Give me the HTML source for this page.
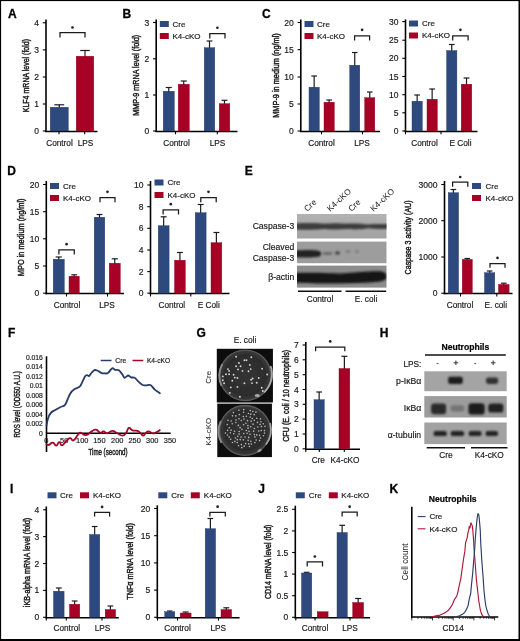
<!DOCTYPE html>
<html><head><meta charset="utf-8"><title>Figure</title>
<style>
html,body{margin:0;padding:0;background:#fff;}
body{width:520px;height:641px;overflow:hidden;}
svg{display:block;font-family:"Liberation Sans",sans-serif;}
</style></head><body>
<svg width="520" height="641" viewBox="0 0 520 641">
<defs>
<filter id="blur1" x="-5%" y="-5%" width="110%" height="110%"><feGaussianBlur stdDeviation="0.85"/></filter>
<filter id="blur05" x="-5%" y="-5%" width="110%" height="110%"><feGaussianBlur stdDeviation="0.45"/></filter>
<radialGradient id="plate" cx="50%" cy="50%" r="50%"><stop offset="0" stop-color="#343434"/><stop offset="0.8" stop-color="#2c2c2c"/><stop offset="1" stop-color="#3c3c3c"/></radialGradient>
<linearGradient id="bg1" x1="0" y1="0" x2="0" y2="1"><stop offset="0" stop-color="#b2b2b2"/><stop offset="1" stop-color="#a2a2a2"/></linearGradient>
<filter id="soft" x="0" y="0" width="520" height="641" filterUnits="userSpaceOnUse"><feGaussianBlur stdDeviation="0.32"/></filter>
</defs>
<rect x="0" y="0" width="520" height="641" fill="#000"/>
<rect x="1.1" y="1.1" width="517.4" height="637.9" fill="#fff"/>
<g opacity="0.999" filter="url(#soft)">
<text x="8" y="18.2" font-size="12" text-anchor="start" font-weight="bold" fill="#000" stroke="#000" stroke-width="0.3">A</text>
<line x1="46" y1="19.4" x2="46" y2="132.1" stroke="#000" stroke-width="1.6"/>
<line x1="45.2" y1="131.4" x2="97.5" y2="131.4" stroke="#000" stroke-width="1.5"/>
<line x1="42.8" y1="22.8" x2="46" y2="22.8" stroke="#000" stroke-width="1.1"/>
<text x="39" y="25.82" font-size="8.5" text-anchor="end" font-weight="normal" fill="#1c1c1c" stroke="#1c1c1c" stroke-width="0.18">4</text>
<line x1="42.8" y1="49.9" x2="46" y2="49.9" stroke="#000" stroke-width="1.1"/>
<text x="39" y="52.92" font-size="8.5" text-anchor="end" font-weight="normal" fill="#1c1c1c" stroke="#1c1c1c" stroke-width="0.18">3</text>
<line x1="42.8" y1="77" x2="46" y2="77" stroke="#000" stroke-width="1.1"/>
<text x="39" y="80.02" font-size="8.5" text-anchor="end" font-weight="normal" fill="#1c1c1c" stroke="#1c1c1c" stroke-width="0.18">2</text>
<line x1="42.8" y1="104" x2="46" y2="104" stroke="#000" stroke-width="1.1"/>
<text x="39" y="107.02" font-size="8.5" text-anchor="end" font-weight="normal" fill="#1c1c1c" stroke="#1c1c1c" stroke-width="0.18">1</text>
<line x1="42.8" y1="131" x2="46" y2="131" stroke="#000" stroke-width="1.1"/>
<text x="39" y="134.02" font-size="8.5" text-anchor="end" font-weight="normal" fill="#1c1c1c" stroke="#1c1c1c" stroke-width="0.18">0</text>
<line x1="59" y1="131.4" x2="59" y2="134.3" stroke="#000" stroke-width="1.1"/>
<line x1="84.7" y1="131.4" x2="84.7" y2="134.3" stroke="#000" stroke-width="1.1"/>
<line x1="59.25" y1="104.8" x2="59.25" y2="108" stroke="#1b1b22" stroke-width="1.2"/>
<line x1="54.35" y1="104.8" x2="64.15" y2="104.8" stroke="#1b1b22" stroke-width="1.2"/>
<rect x="50.2" y="107.2" width="18.1" height="23.8" fill="#2e4a7d" stroke="#263b63" stroke-width="0.4"/>
<line x1="85" y1="50.5" x2="85" y2="57" stroke="#1b1b22" stroke-width="1.2"/>
<line x1="80.23" y1="50.5" x2="89.77" y2="50.5" stroke="#1b1b22" stroke-width="1.2"/>
<rect x="76.2" y="56.2" width="17.6" height="74.8" fill="#a80028" stroke="#8a0020" stroke-width="0.4"/>
<path d="M60 37.5 V32.6 H85 V37.5" fill="none" stroke="#1c1c1c" stroke-width="1.25"/>
<circle cx="72.5" cy="27.5" r="1.35" fill="#222"/>
<text x="59.5" y="146" font-size="8.25" text-anchor="middle" font-weight="normal" fill="#1c1c1c" stroke="#1c1c1c" stroke-width="0.18">Control</text>
<text x="85.5" y="146" font-size="8.25" text-anchor="middle" font-weight="normal" fill="#1c1c1c" stroke="#1c1c1c" stroke-width="0.18">LPS</text>
<text transform="translate(29.3 75.6) rotate(-90)" x="0" y="0" font-size="9" text-anchor="middle" font-weight="normal" fill="#1c1c1c" textLength="73.3" lengthAdjust="spacingAndGlyphs" stroke="#1c1c1c" stroke-width="0.45">KLF4 mRNA level (fold)</text>
<text x="122.5" y="18.2" font-size="12" text-anchor="start" font-weight="bold" fill="#000" stroke="#000" stroke-width="0.3">B</text>
<line x1="156.2" y1="19.4" x2="156.2" y2="132.1" stroke="#000" stroke-width="1.6"/>
<line x1="155.4" y1="131.4" x2="237.5" y2="131.4" stroke="#000" stroke-width="1.5"/>
<line x1="153" y1="22.5" x2="156.2" y2="22.5" stroke="#000" stroke-width="1.1"/>
<text x="149.2" y="25.52" font-size="8.5" text-anchor="end" font-weight="normal" fill="#1c1c1c" stroke="#1c1c1c" stroke-width="0.18">3</text>
<line x1="153" y1="58.8" x2="156.2" y2="58.8" stroke="#000" stroke-width="1.1"/>
<text x="149.2" y="61.82" font-size="8.5" text-anchor="end" font-weight="normal" fill="#1c1c1c" stroke="#1c1c1c" stroke-width="0.18">2</text>
<line x1="153" y1="95" x2="156.2" y2="95" stroke="#000" stroke-width="1.1"/>
<text x="149.2" y="98.02" font-size="8.5" text-anchor="end" font-weight="normal" fill="#1c1c1c" stroke="#1c1c1c" stroke-width="0.18">1</text>
<line x1="153" y1="131" x2="156.2" y2="131" stroke="#000" stroke-width="1.1"/>
<text x="149.2" y="134.02" font-size="8.5" text-anchor="end" font-weight="normal" fill="#1c1c1c" stroke="#1c1c1c" stroke-width="0.18">0</text>
<line x1="175.5" y1="131.4" x2="175.5" y2="134.3" stroke="#000" stroke-width="1.1"/>
<line x1="217.3" y1="131.4" x2="217.3" y2="134.3" stroke="#000" stroke-width="1.1"/>
<line x1="168.75" y1="87.5" x2="168.75" y2="92" stroke="#1b1b22" stroke-width="1.2"/>
<line x1="165.7" y1="87.5" x2="171.8" y2="87.5" stroke="#1b1b22" stroke-width="1.2"/>
<rect x="163.2" y="91.2" width="11.1" height="39.8" fill="#2e4a7d" stroke="#263b63" stroke-width="0.4"/>
<line x1="183.75" y1="81" x2="183.75" y2="85" stroke="#1b1b22" stroke-width="1.2"/>
<line x1="180.7" y1="81" x2="186.8" y2="81" stroke="#1b1b22" stroke-width="1.2"/>
<rect x="178.2" y="84.2" width="11.1" height="46.8" fill="#a80028" stroke="#8a0020" stroke-width="0.4"/>
<line x1="209.5" y1="41" x2="209.5" y2="48.5" stroke="#1b1b22" stroke-width="1.2"/>
<line x1="206.59" y1="41" x2="212.41" y2="41" stroke="#1b1b22" stroke-width="1.2"/>
<rect x="204.2" y="47.7" width="10.6" height="83.3" fill="#2e4a7d" stroke="#263b63" stroke-width="0.4"/>
<line x1="224.5" y1="100.3" x2="224.5" y2="104.5" stroke="#1b1b22" stroke-width="1.2"/>
<line x1="221.59" y1="100.3" x2="227.41" y2="100.3" stroke="#1b1b22" stroke-width="1.2"/>
<rect x="219.2" y="103.7" width="10.6" height="27.3" fill="#a80028" stroke="#8a0020" stroke-width="0.4"/>
<rect x="159.8" y="21" width="9" height="6" fill="#2e4a7d"/>
<text x="172.5" y="26.9" font-size="8" text-anchor="start" font-weight="normal" fill="#1c1c1c" stroke="#1c1c1c" stroke-width="0.18">Cre</text>
<rect x="159.8" y="33" width="9" height="6" fill="#a80028"/>
<text x="172.5" y="38.9" font-size="8" text-anchor="start" font-weight="normal" fill="#1c1c1c" stroke="#1c1c1c" stroke-width="0.18">K4-cKO</text>
<path d="M209.8 38.5 V33.5 H225 V38.5" fill="none" stroke="#1c1c1c" stroke-width="1.25"/>
<circle cx="217.4" cy="27.75" r="1.35" fill="#222"/>
<text x="176.5" y="146" font-size="8.25" text-anchor="middle" font-weight="normal" fill="#1c1c1c" stroke="#1c1c1c" stroke-width="0.18">Control</text>
<text x="217.5" y="146" font-size="8.25" text-anchor="middle" font-weight="normal" fill="#1c1c1c" stroke="#1c1c1c" stroke-width="0.18">LPS</text>
<text transform="translate(138.6 75.3) rotate(-90)" x="0" y="0" font-size="9" text-anchor="middle" font-weight="normal" fill="#1c1c1c" textLength="81" lengthAdjust="spacingAndGlyphs" stroke="#1c1c1c" stroke-width="0.45">MMP-9 mRNA level (fold)</text>
<text x="262" y="18.2" font-size="12" text-anchor="start" font-weight="bold" fill="#000" stroke="#000" stroke-width="0.3">C</text>
<line x1="300.8" y1="19.4" x2="300.8" y2="132.1" stroke="#000" stroke-width="1.6"/>
<line x1="300" y1="131.4" x2="380" y2="131.4" stroke="#000" stroke-width="1.5"/>
<line x1="297.6" y1="22.5" x2="300.8" y2="22.5" stroke="#000" stroke-width="1.1"/>
<text x="293.8" y="25.52" font-size="8.5" text-anchor="end" font-weight="normal" fill="#1c1c1c" stroke="#1c1c1c" stroke-width="0.18">20</text>
<line x1="297.6" y1="49.7" x2="300.8" y2="49.7" stroke="#000" stroke-width="1.1"/>
<text x="293.8" y="52.72" font-size="8.5" text-anchor="end" font-weight="normal" fill="#1c1c1c" stroke="#1c1c1c" stroke-width="0.18">15</text>
<line x1="297.6" y1="77" x2="300.8" y2="77" stroke="#000" stroke-width="1.1"/>
<text x="293.8" y="80.02" font-size="8.5" text-anchor="end" font-weight="normal" fill="#1c1c1c" stroke="#1c1c1c" stroke-width="0.18">10</text>
<line x1="297.6" y1="104" x2="300.8" y2="104" stroke="#000" stroke-width="1.1"/>
<text x="293.8" y="107.02" font-size="8.5" text-anchor="end" font-weight="normal" fill="#1c1c1c" stroke="#1c1c1c" stroke-width="0.18">5</text>
<line x1="297.6" y1="131" x2="300.8" y2="131" stroke="#000" stroke-width="1.1"/>
<text x="293.8" y="134.02" font-size="8.5" text-anchor="end" font-weight="normal" fill="#1c1c1c" stroke="#1c1c1c" stroke-width="0.18">0</text>
<line x1="321.5" y1="131.4" x2="321.5" y2="134.3" stroke="#000" stroke-width="1.1"/>
<line x1="362.5" y1="131.4" x2="362.5" y2="134.3" stroke="#000" stroke-width="1.1"/>
<line x1="314.15" y1="76" x2="314.15" y2="88" stroke="#1b1b22" stroke-width="1.2"/>
<line x1="311.31" y1="76" x2="316.99" y2="76" stroke="#1b1b22" stroke-width="1.2"/>
<rect x="309" y="87.2" width="10.3" height="43.8" fill="#2e4a7d" stroke="#263b63" stroke-width="0.4"/>
<line x1="329.15" y1="100" x2="329.15" y2="103" stroke="#1b1b22" stroke-width="1.2"/>
<line x1="326.31" y1="100" x2="331.99" y2="100" stroke="#1b1b22" stroke-width="1.2"/>
<rect x="324" y="102.2" width="10.3" height="28.8" fill="#a80028" stroke="#8a0020" stroke-width="0.4"/>
<line x1="354.75" y1="52.5" x2="354.75" y2="66" stroke="#1b1b22" stroke-width="1.2"/>
<line x1="351.97" y1="52.5" x2="357.53" y2="52.5" stroke="#1b1b22" stroke-width="1.2"/>
<rect x="349.7" y="65.2" width="10.1" height="65.8" fill="#2e4a7d" stroke="#263b63" stroke-width="0.4"/>
<line x1="369.75" y1="92" x2="369.75" y2="98.5" stroke="#1b1b22" stroke-width="1.2"/>
<line x1="366.97" y1="92" x2="372.53" y2="92" stroke="#1b1b22" stroke-width="1.2"/>
<rect x="364.7" y="97.7" width="10.1" height="33.3" fill="#a80028" stroke="#8a0020" stroke-width="0.4"/>
<rect x="304.5" y="21" width="9" height="6" fill="#2e4a7d"/>
<text x="317" y="26.9" font-size="8" text-anchor="start" font-weight="normal" fill="#1c1c1c" stroke="#1c1c1c" stroke-width="0.18">Cre</text>
<rect x="304.5" y="33" width="9" height="6" fill="#a80028"/>
<text x="317" y="38.9" font-size="8" text-anchor="start" font-weight="normal" fill="#1c1c1c" stroke="#1c1c1c" stroke-width="0.18">K4-cKO</text>
<path d="M354.6 40.4 V35.8 H369.6 V40.4" fill="none" stroke="#1c1c1c" stroke-width="1.25"/>
<circle cx="362.1" cy="29.85" r="1.35" fill="#222"/>
<text x="321.5" y="146" font-size="8.25" text-anchor="middle" font-weight="normal" fill="#1c1c1c" stroke="#1c1c1c" stroke-width="0.18">Control</text>
<text x="362" y="146" font-size="8.25" text-anchor="middle" font-weight="normal" fill="#1c1c1c" stroke="#1c1c1c" stroke-width="0.18">LPS</text>
<text transform="translate(278.5 75.5) rotate(-90)" x="0" y="0" font-size="9" text-anchor="middle" font-weight="normal" fill="#1c1c1c" textLength="84.5" lengthAdjust="spacingAndGlyphs" stroke="#1c1c1c" stroke-width="0.45">MMP-9 in medium (ng/ml)</text>
<line x1="405.5" y1="19.4" x2="405.5" y2="132.1" stroke="#000" stroke-width="1.6"/>
<line x1="404.7" y1="131.4" x2="477.5" y2="131.4" stroke="#000" stroke-width="1.5"/>
<line x1="402.3" y1="21.6" x2="405.5" y2="21.6" stroke="#000" stroke-width="1.1"/>
<text x="398.5" y="24.62" font-size="8.5" text-anchor="end" font-weight="normal" fill="#1c1c1c" stroke="#1c1c1c" stroke-width="0.18">30</text>
<line x1="402.3" y1="40.2" x2="405.5" y2="40.2" stroke="#000" stroke-width="1.1"/>
<text x="398.5" y="43.22" font-size="8.5" text-anchor="end" font-weight="normal" fill="#1c1c1c" stroke="#1c1c1c" stroke-width="0.18">25</text>
<line x1="402.3" y1="58.3" x2="405.5" y2="58.3" stroke="#000" stroke-width="1.1"/>
<text x="398.5" y="61.32" font-size="8.5" text-anchor="end" font-weight="normal" fill="#1c1c1c" stroke="#1c1c1c" stroke-width="0.18">20</text>
<line x1="402.3" y1="76.5" x2="405.5" y2="76.5" stroke="#000" stroke-width="1.1"/>
<text x="398.5" y="79.52" font-size="8.5" text-anchor="end" font-weight="normal" fill="#1c1c1c" stroke="#1c1c1c" stroke-width="0.18">15</text>
<line x1="402.3" y1="94.7" x2="405.5" y2="94.7" stroke="#000" stroke-width="1.1"/>
<text x="398.5" y="97.72" font-size="8.5" text-anchor="end" font-weight="normal" fill="#1c1c1c" stroke="#1c1c1c" stroke-width="0.18">10</text>
<line x1="402.3" y1="112.8" x2="405.5" y2="112.8" stroke="#000" stroke-width="1.1"/>
<text x="398.5" y="115.82" font-size="8.5" text-anchor="end" font-weight="normal" fill="#1c1c1c" stroke="#1c1c1c" stroke-width="0.18">5</text>
<line x1="402.3" y1="131" x2="405.5" y2="131" stroke="#000" stroke-width="1.1"/>
<text x="398.5" y="134.02" font-size="8.5" text-anchor="end" font-weight="normal" fill="#1c1c1c" stroke="#1c1c1c" stroke-width="0.18">0</text>
<line x1="405.5" y1="131.4" x2="405.5" y2="134.3" stroke="#000" stroke-width="1.1"/>
<line x1="441" y1="131.4" x2="441" y2="134.3" stroke="#000" stroke-width="1.1"/>
<line x1="417.15" y1="95" x2="417.15" y2="102" stroke="#1b1b22" stroke-width="1.2"/>
<line x1="414.31" y1="95" x2="419.99" y2="95" stroke="#1b1b22" stroke-width="1.2"/>
<rect x="412" y="101.2" width="10.3" height="29.8" fill="#2e4a7d" stroke="#263b63" stroke-width="0.4"/>
<line x1="432.15" y1="89" x2="432.15" y2="100" stroke="#1b1b22" stroke-width="1.2"/>
<line x1="429.31" y1="89" x2="434.99" y2="89" stroke="#1b1b22" stroke-width="1.2"/>
<rect x="427" y="99.2" width="10.3" height="31.8" fill="#a80028" stroke="#8a0020" stroke-width="0.4"/>
<line x1="451.75" y1="44.5" x2="451.75" y2="51.4" stroke="#1b1b22" stroke-width="1.2"/>
<line x1="448.91" y1="44.5" x2="454.59" y2="44.5" stroke="#1b1b22" stroke-width="1.2"/>
<rect x="446.6" y="50.6" width="10.3" height="80.4" fill="#2e4a7d" stroke="#263b63" stroke-width="0.4"/>
<line x1="466.5" y1="78" x2="466.5" y2="85" stroke="#1b1b22" stroke-width="1.2"/>
<line x1="463.58" y1="78" x2="469.42" y2="78" stroke="#1b1b22" stroke-width="1.2"/>
<rect x="461.2" y="84.2" width="10.6" height="46.8" fill="#a80028" stroke="#8a0020" stroke-width="0.4"/>
<rect x="409" y="20.5" width="9" height="6" fill="#2e4a7d"/>
<text x="422" y="26.4" font-size="8" text-anchor="start" font-weight="normal" fill="#1c1c1c" stroke="#1c1c1c" stroke-width="0.18">Cre</text>
<rect x="409" y="32.5" width="9" height="6" fill="#a80028"/>
<text x="422" y="38.4" font-size="8" text-anchor="start" font-weight="normal" fill="#1c1c1c" stroke="#1c1c1c" stroke-width="0.18">K4-cKO</text>
<path d="M452.7 40.4 V35.8 H468.1 V40.4" fill="none" stroke="#1c1c1c" stroke-width="1.25"/>
<circle cx="460.4" cy="29.85" r="1.35" fill="#222"/>
<text x="424.5" y="146" font-size="8.25" text-anchor="middle" font-weight="normal" fill="#1c1c1c" stroke="#1c1c1c" stroke-width="0.18">Control</text>
<text x="460.5" y="146" font-size="8.25" text-anchor="middle" font-weight="normal" fill="#1c1c1c" stroke="#1c1c1c" stroke-width="0.18">E Coli</text>
<text x="7.3" y="174.5" font-size="12" text-anchor="start" font-weight="bold" fill="#000" stroke="#000" stroke-width="0.3">D</text>
<line x1="46.3" y1="181" x2="46.3" y2="294.3" stroke="#000" stroke-width="1.6"/>
<line x1="45.5" y1="293.6" x2="124" y2="293.6" stroke="#000" stroke-width="1.5"/>
<line x1="43.1" y1="184.5" x2="46.3" y2="184.5" stroke="#000" stroke-width="1.1"/>
<text x="39.3" y="187.52" font-size="8.5" text-anchor="end" font-weight="normal" fill="#1c1c1c" stroke="#1c1c1c" stroke-width="0.18">20</text>
<line x1="43.1" y1="211.7" x2="46.3" y2="211.7" stroke="#000" stroke-width="1.1"/>
<text x="39.3" y="214.72" font-size="8.5" text-anchor="end" font-weight="normal" fill="#1c1c1c" stroke="#1c1c1c" stroke-width="0.18">15</text>
<line x1="43.1" y1="238.8" x2="46.3" y2="238.8" stroke="#000" stroke-width="1.1"/>
<text x="39.3" y="241.82" font-size="8.5" text-anchor="end" font-weight="normal" fill="#1c1c1c" stroke="#1c1c1c" stroke-width="0.18">10</text>
<line x1="43.1" y1="266" x2="46.3" y2="266" stroke="#000" stroke-width="1.1"/>
<text x="39.3" y="269.02" font-size="8.5" text-anchor="end" font-weight="normal" fill="#1c1c1c" stroke="#1c1c1c" stroke-width="0.18">5</text>
<line x1="43.1" y1="293.2" x2="46.3" y2="293.2" stroke="#000" stroke-width="1.1"/>
<text x="39.3" y="296.22" font-size="8.5" text-anchor="end" font-weight="normal" fill="#1c1c1c" stroke="#1c1c1c" stroke-width="0.18">0</text>
<line x1="66.5" y1="293.6" x2="66.5" y2="296.5" stroke="#000" stroke-width="1.1"/>
<line x1="107.5" y1="293.6" x2="107.5" y2="296.5" stroke="#000" stroke-width="1.1"/>
<line x1="58.75" y1="257" x2="58.75" y2="260" stroke="#1b1b22" stroke-width="1.2"/>
<line x1="55.7" y1="257" x2="61.8" y2="257" stroke="#1b1b22" stroke-width="1.2"/>
<rect x="53.2" y="259.2" width="11.1" height="34" fill="#2e4a7d" stroke="#263b63" stroke-width="0.4"/>
<line x1="74.15" y1="274.8" x2="74.15" y2="277" stroke="#1b1b22" stroke-width="1.2"/>
<line x1="71.31" y1="274.8" x2="76.99" y2="274.8" stroke="#1b1b22" stroke-width="1.2"/>
<rect x="69" y="276.2" width="10.3" height="17" fill="#a80028" stroke="#8a0020" stroke-width="0.4"/>
<line x1="99.5" y1="214.5" x2="99.5" y2="218" stroke="#1b1b22" stroke-width="1.2"/>
<line x1="96.58" y1="214.5" x2="102.42" y2="214.5" stroke="#1b1b22" stroke-width="1.2"/>
<rect x="94.2" y="217.2" width="10.6" height="76" fill="#2e4a7d" stroke="#263b63" stroke-width="0.4"/>
<line x1="114.75" y1="258.8" x2="114.75" y2="264" stroke="#1b1b22" stroke-width="1.2"/>
<line x1="111.7" y1="258.8" x2="117.8" y2="258.8" stroke="#1b1b22" stroke-width="1.2"/>
<rect x="109.2" y="263.2" width="11.1" height="30" fill="#a80028" stroke="#8a0020" stroke-width="0.4"/>
<rect x="50" y="183" width="9" height="6" fill="#2e4a7d"/>
<text x="63" y="188.9" font-size="8" text-anchor="start" font-weight="normal" fill="#1c1c1c" stroke="#1c1c1c" stroke-width="0.18">Cre</text>
<rect x="50" y="195" width="9" height="6" fill="#a80028"/>
<text x="63" y="200.9" font-size="8" text-anchor="start" font-weight="normal" fill="#1c1c1c" stroke="#1c1c1c" stroke-width="0.18">K4-cKO</text>
<path d="M58.9 254.5 V249.8 H74.3 V254.5" fill="none" stroke="#1c1c1c" stroke-width="1.25"/>
<circle cx="66.6" cy="244.2" r="1.35" fill="#222"/>
<path d="M100 202.3 V197.5 H115 V202.3" fill="none" stroke="#1c1c1c" stroke-width="1.25"/>
<circle cx="107.5" cy="191.8" r="1.35" fill="#222"/>
<text x="67" y="307.5" font-size="8.25" text-anchor="middle" font-weight="normal" fill="#1c1c1c" stroke="#1c1c1c" stroke-width="0.18">Control</text>
<text x="107" y="307.5" font-size="8.25" text-anchor="middle" font-weight="normal" fill="#1c1c1c" stroke="#1c1c1c" stroke-width="0.18">LPS</text>
<text transform="translate(23.5 237.3) rotate(-90)" x="0" y="0" font-size="9" text-anchor="middle" font-weight="normal" fill="#1c1c1c" textLength="77.7" lengthAdjust="spacingAndGlyphs" stroke="#1c1c1c" stroke-width="0.45">MPO in medium (ng/ml)</text>
<line x1="150.5" y1="181" x2="150.5" y2="294.3" stroke="#000" stroke-width="1.6"/>
<line x1="149.7" y1="293.6" x2="229.5" y2="293.6" stroke="#000" stroke-width="1.5"/>
<line x1="147.3" y1="185" x2="150.5" y2="185" stroke="#000" stroke-width="1.1"/>
<text x="143.5" y="188.02" font-size="8.5" text-anchor="end" font-weight="normal" fill="#1c1c1c" stroke="#1c1c1c" stroke-width="0.18">10</text>
<line x1="147.3" y1="206.7" x2="150.5" y2="206.7" stroke="#000" stroke-width="1.1"/>
<text x="143.5" y="209.72" font-size="8.5" text-anchor="end" font-weight="normal" fill="#1c1c1c" stroke="#1c1c1c" stroke-width="0.18">8</text>
<line x1="147.3" y1="228.3" x2="150.5" y2="228.3" stroke="#000" stroke-width="1.1"/>
<text x="143.5" y="231.32" font-size="8.5" text-anchor="end" font-weight="normal" fill="#1c1c1c" stroke="#1c1c1c" stroke-width="0.18">6</text>
<line x1="147.3" y1="250" x2="150.5" y2="250" stroke="#000" stroke-width="1.1"/>
<text x="143.5" y="253.02" font-size="8.5" text-anchor="end" font-weight="normal" fill="#1c1c1c" stroke="#1c1c1c" stroke-width="0.18">4</text>
<line x1="147.3" y1="271.6" x2="150.5" y2="271.6" stroke="#000" stroke-width="1.1"/>
<text x="143.5" y="274.62" font-size="8.5" text-anchor="end" font-weight="normal" fill="#1c1c1c" stroke="#1c1c1c" stroke-width="0.18">2</text>
<line x1="147.3" y1="293.2" x2="150.5" y2="293.2" stroke="#000" stroke-width="1.1"/>
<text x="143.5" y="296.22" font-size="8.5" text-anchor="end" font-weight="normal" fill="#1c1c1c" stroke="#1c1c1c" stroke-width="0.18">0</text>
<line x1="150.5" y1="293.6" x2="150.5" y2="296.5" stroke="#000" stroke-width="1.1"/>
<line x1="190.8" y1="293.6" x2="190.8" y2="296.5" stroke="#000" stroke-width="1.1"/>
<line x1="163.65" y1="216.8" x2="163.65" y2="226.5" stroke="#1b1b22" stroke-width="1.2"/>
<line x1="160.66" y1="216.8" x2="166.64" y2="216.8" stroke="#1b1b22" stroke-width="1.2"/>
<rect x="158.2" y="225.7" width="10.9" height="67.5" fill="#2e4a7d" stroke="#263b63" stroke-width="0.4"/>
<line x1="179.9" y1="252.5" x2="179.9" y2="261" stroke="#1b1b22" stroke-width="1.2"/>
<line x1="176.93" y1="252.5" x2="182.87" y2="252.5" stroke="#1b1b22" stroke-width="1.2"/>
<rect x="174.5" y="260.2" width="10.8" height="33" fill="#a80028" stroke="#8a0020" stroke-width="0.4"/>
<line x1="200.65" y1="204.5" x2="200.65" y2="213.5" stroke="#1b1b22" stroke-width="1.2"/>
<line x1="197.66" y1="204.5" x2="203.64" y2="204.5" stroke="#1b1b22" stroke-width="1.2"/>
<rect x="195.2" y="212.7" width="10.9" height="80.5" fill="#2e4a7d" stroke="#263b63" stroke-width="0.4"/>
<line x1="216.4" y1="232.5" x2="216.4" y2="243.5" stroke="#1b1b22" stroke-width="1.2"/>
<line x1="213.43" y1="232.5" x2="219.37" y2="232.5" stroke="#1b1b22" stroke-width="1.2"/>
<rect x="211" y="242.7" width="10.8" height="50.5" fill="#a80028" stroke="#8a0020" stroke-width="0.4"/>
<rect x="154.5" y="179.5" width="9" height="6" fill="#2e4a7d"/>
<text x="167.5" y="185.4" font-size="8" text-anchor="start" font-weight="normal" fill="#1c1c1c" stroke="#1c1c1c" stroke-width="0.18">Cre</text>
<rect x="154.5" y="192" width="9" height="6" fill="#a80028"/>
<text x="167.5" y="197.9" font-size="8" text-anchor="start" font-weight="normal" fill="#1c1c1c" stroke="#1c1c1c" stroke-width="0.18">K4-cKO</text>
<path d="M163.1 214.5 V209.8 H178.5 V214.5" fill="none" stroke="#1c1c1c" stroke-width="1.25"/>
<circle cx="170.8" cy="204.2" r="1.35" fill="#222"/>
<path d="M200.8 202.3 V197.5 H216.2 V202.3" fill="none" stroke="#1c1c1c" stroke-width="1.25"/>
<circle cx="208.5" cy="191.8" r="1.35" fill="#222"/>
<text x="171.8" y="307.5" font-size="8.25" text-anchor="middle" font-weight="normal" fill="#1c1c1c" stroke="#1c1c1c" stroke-width="0.18">Control</text>
<text x="208.8" y="307.5" font-size="8.25" text-anchor="middle" font-weight="normal" fill="#1c1c1c" stroke="#1c1c1c" stroke-width="0.18">E Coli</text>
<text x="244.7" y="174.7" font-size="12" text-anchor="start" font-weight="bold" fill="#000" stroke="#000" stroke-width="0.3">E</text>
<rect x="297" y="214" width="89.5" height="24.5" fill="url(#bg1)"/>
<rect x="297" y="241.6" width="89.5" height="21.6" fill="#9d9d9d"/>
<rect x="297" y="265.6" width="89.5" height="22" fill="#8c8c8c"/>
<clipPath id="cE"><rect x="297" y="214" width="89.5" height="24.5"/><rect x="297" y="241.6" width="89.5" height="21.6"/><rect x="297" y="265.6" width="89.5" height="22"/></clipPath>
<g clip-path="url(#cE)"><g filter="url(#blur1)">
<path d="M290 223.8 C305 222.9 318 222.9 325 223.8 C330 223 340 223 346 223.8 C352 223.2 362 223.4 368 224.6 C374 224 382 224 392 224.3 V228.6 C380 229.2 374 228.8 368 228.2 C362 229.6 352 229.6 346 229 C340 229.6 330 229.6 325 228.9 C318 229.8 305 229.8 290 229.3 Z" fill="#3c3c3c"/>
<path d="M290 251 C303 249.8 314 249.6 319 251 C322 252 322 255.5 319 256.6 C314 257.8 303 257.8 290 257 Z" fill="#242424"/>
<ellipse cx="327.5" cy="253.5" rx="5" ry="1.4" fill="#666"/>
<ellipse cx="337.5" cy="253" rx="2.6" ry="1.8" fill="#454545"/>
<ellipse cx="348" cy="251.5" rx="2.5" ry="1.5" fill="#7c7c7c"/>
<ellipse cx="357" cy="251.5" rx="2" ry="1.5" fill="#7a7a7a"/>
<path d="M290 273.3 C310 272 325 273 340 273.4 C355 272.6 370 270.8 380 271.2 C384 271.6 386.5 273.4 386.5 275.2 V278.6 C384 281.4 378 282.4 370 282.4 C355 283.2 340 283.4 325 283.4 C312 283.4 304 283 290 282.6 Z" fill="#151515"/>
</g></g>
<line x1="298" y1="291.2" x2="341.5" y2="291.2" stroke="#111" stroke-width="1.6"/>
<line x1="345.6" y1="291.2" x2="386.2" y2="291.2" stroke="#111" stroke-width="1.6"/>
<text x="320" y="302" font-size="8.25" text-anchor="middle" font-weight="normal" fill="#1c1c1c" stroke="#1c1c1c" stroke-width="0.18">Control</text>
<text x="366" y="302" font-size="8.25" text-anchor="middle" font-weight="normal" fill="#1c1c1c" stroke="#1c1c1c" stroke-width="0.18">E. coli</text>
<text x="294.2" y="229" font-size="8.6" text-anchor="end" font-weight="normal" fill="#1c1c1c" stroke="#1c1c1c" stroke-width="0.18">Caspase-3</text>
<text x="294.2" y="250" font-size="8.6" text-anchor="end" font-weight="normal" fill="#1c1c1c" stroke="#1c1c1c" stroke-width="0.18">Cleaved</text>
<text x="294.2" y="261" font-size="8.6" text-anchor="end" font-weight="normal" fill="#1c1c1c" stroke="#1c1c1c" stroke-width="0.18">Caspase-3</text>
<text x="294.2" y="280.3" font-size="8.6" text-anchor="end" font-weight="normal" fill="#1c1c1c" stroke="#1c1c1c" stroke-width="0.18">β-actin</text>
<text transform="translate(307.2 212) rotate(-43)" font-size="8.4" fill="#1c1c1c">Cre</text>
<text transform="translate(330.2 212) rotate(-43)" font-size="8.4" fill="#1c1c1c">K4-cKO</text>
<text transform="translate(351.4 212) rotate(-43)" font-size="8.4" fill="#1c1c1c">Cre</text>
<text transform="translate(373.5 212) rotate(-43)" font-size="8.4" fill="#1c1c1c">K4-cKO</text>
<line x1="444.5" y1="181" x2="444.5" y2="294.3" stroke="#000" stroke-width="1.6"/>
<line x1="443.7" y1="293.6" x2="512.5" y2="293.6" stroke="#000" stroke-width="1.5"/>
<line x1="441.3" y1="184.5" x2="444.5" y2="184.5" stroke="#000" stroke-width="1.1"/>
<text x="437.5" y="187.52" font-size="8.5" text-anchor="end" font-weight="normal" fill="#1c1c1c" stroke="#1c1c1c" stroke-width="0.18">3000</text>
<line x1="441.3" y1="220.7" x2="444.5" y2="220.7" stroke="#000" stroke-width="1.1"/>
<text x="437.5" y="223.72" font-size="8.5" text-anchor="end" font-weight="normal" fill="#1c1c1c" stroke="#1c1c1c" stroke-width="0.18">2000</text>
<line x1="441.3" y1="257" x2="444.5" y2="257" stroke="#000" stroke-width="1.1"/>
<text x="437.5" y="260.02" font-size="8.5" text-anchor="end" font-weight="normal" fill="#1c1c1c" stroke="#1c1c1c" stroke-width="0.18">1000</text>
<line x1="441.3" y1="293.2" x2="444.5" y2="293.2" stroke="#000" stroke-width="1.1"/>
<text x="437.5" y="296.22" font-size="8.5" text-anchor="end" font-weight="normal" fill="#1c1c1c" stroke="#1c1c1c" stroke-width="0.18">0</text>
<line x1="460.5" y1="293.6" x2="460.5" y2="296.5" stroke="#000" stroke-width="1.1"/>
<line x1="496.8" y1="293.6" x2="496.8" y2="296.5" stroke="#000" stroke-width="1.1"/>
<line x1="453.4" y1="189.5" x2="453.4" y2="193.5" stroke="#1b1b22" stroke-width="1.2"/>
<line x1="450.54" y1="189.5" x2="456.26" y2="189.5" stroke="#1b1b22" stroke-width="1.2"/>
<rect x="448.2" y="192.7" width="10.4" height="100.5" fill="#2e4a7d" stroke="#263b63" stroke-width="0.4"/>
<line x1="467.25" y1="258.5" x2="467.25" y2="260.2" stroke="#1b1b22" stroke-width="1.2"/>
<line x1="464.47" y1="258.5" x2="470.03" y2="258.5" stroke="#1b1b22" stroke-width="1.2"/>
<rect x="462.2" y="259.4" width="10.1" height="33.8" fill="#a80028" stroke="#8a0020" stroke-width="0.4"/>
<line x1="489.65" y1="271" x2="489.65" y2="273.5" stroke="#1b1b22" stroke-width="1.2"/>
<line x1="486.81" y1="271" x2="492.49" y2="271" stroke="#1b1b22" stroke-width="1.2"/>
<rect x="484.5" y="272.7" width="10.3" height="20.5" fill="#2e4a7d" stroke="#263b63" stroke-width="0.4"/>
<line x1="503.8" y1="283.2" x2="503.8" y2="285.2" stroke="#1b1b22" stroke-width="1.2"/>
<line x1="500.88" y1="283.2" x2="506.72" y2="283.2" stroke="#1b1b22" stroke-width="1.2"/>
<rect x="498.5" y="284.4" width="10.6" height="8.8" fill="#a80028" stroke="#8a0020" stroke-width="0.4"/>
<rect x="472" y="183" width="9" height="6" fill="#2e4a7d"/>
<text x="485.5" y="188.9" font-size="8" text-anchor="start" font-weight="normal" fill="#1c1c1c" stroke="#1c1c1c" stroke-width="0.18">Cre</text>
<rect x="472" y="195" width="9" height="6" fill="#a80028"/>
<text x="485.5" y="200.9" font-size="8" text-anchor="start" font-weight="normal" fill="#1c1c1c" stroke="#1c1c1c" stroke-width="0.18">K4-cKO</text>
<path d="M452.6 186.8 V182.1 H467.8 V186.8" fill="none" stroke="#1c1c1c" stroke-width="1.25"/>
<circle cx="460.2" cy="177" r="1.35" fill="#222"/>
<path d="M490 267.8 V263.5 H505 V267.8" fill="none" stroke="#1c1c1c" stroke-width="1.25"/>
<circle cx="497.5" cy="257.9" r="1.35" fill="#222"/>
<text x="460" y="307.5" font-size="8.25" text-anchor="middle" font-weight="normal" fill="#1c1c1c" stroke="#1c1c1c" stroke-width="0.18">Control</text>
<text x="495.8" y="307.5" font-size="8.25" text-anchor="middle" font-weight="normal" fill="#1c1c1c" stroke="#1c1c1c" stroke-width="0.18">E. coli</text>
<text transform="translate(410.7 237.4) rotate(-90)" x="0" y="0" font-size="9" text-anchor="middle" font-weight="normal" fill="#1c1c1c" textLength="74" lengthAdjust="spacingAndGlyphs" stroke="#1c1c1c" stroke-width="0.45">Caspase 3 activity (AU)</text>
<text x="8" y="337.1" font-size="12" text-anchor="start" font-weight="bold" fill="#000" stroke="#000" stroke-width="0.3">F</text>
<line x1="46.5" y1="356.3" x2="46.5" y2="452" stroke="#000" stroke-width="1.6"/>
<line x1="46.5" y1="433.2" x2="170.7" y2="433.2" stroke="#000" stroke-width="1.5"/>
<text x="42.9" y="359.5" font-size="6.8" text-anchor="end" font-weight="normal" fill="#1c1c1c" stroke="#1c1c1c" stroke-width="0.18">0.016</text>
<text x="42.9" y="369" font-size="6.8" text-anchor="end" font-weight="normal" fill="#1c1c1c" stroke="#1c1c1c" stroke-width="0.18">0.014</text>
<text x="42.9" y="378.5" font-size="6.8" text-anchor="end" font-weight="normal" fill="#1c1c1c" stroke="#1c1c1c" stroke-width="0.18">0.012</text>
<text x="42.9" y="388" font-size="6.8" text-anchor="end" font-weight="normal" fill="#1c1c1c" stroke="#1c1c1c" stroke-width="0.18">0.01</text>
<text x="42.9" y="397.5" font-size="6.8" text-anchor="end" font-weight="normal" fill="#1c1c1c" stroke="#1c1c1c" stroke-width="0.18">0.008</text>
<text x="42.9" y="407" font-size="6.8" text-anchor="end" font-weight="normal" fill="#1c1c1c" stroke="#1c1c1c" stroke-width="0.18">0.006</text>
<text x="42.9" y="416.5" font-size="6.8" text-anchor="end" font-weight="normal" fill="#1c1c1c" stroke="#1c1c1c" stroke-width="0.18">0.004</text>
<text x="42.9" y="426" font-size="6.8" text-anchor="end" font-weight="normal" fill="#1c1c1c" stroke="#1c1c1c" stroke-width="0.18">0.002</text>
<text x="42.9" y="435.5" font-size="6.8" text-anchor="end" font-weight="normal" fill="#1c1c1c" stroke="#1c1c1c" stroke-width="0.18">0</text>
<text x="46.2" y="442.9" font-size="7.4" text-anchor="middle" font-weight="normal" fill="#1c1c1c" stroke="#1c1c1c" stroke-width="0.18">0</text>
<text x="64.2" y="442.9" font-size="7.4" text-anchor="middle" font-weight="normal" fill="#1c1c1c" stroke="#1c1c1c" stroke-width="0.18">50</text>
<text x="82.2" y="442.9" font-size="7.4" text-anchor="middle" font-weight="normal" fill="#1c1c1c" stroke="#1c1c1c" stroke-width="0.18">100</text>
<text x="99.4" y="442.9" font-size="7.4" text-anchor="middle" font-weight="normal" fill="#1c1c1c" stroke="#1c1c1c" stroke-width="0.18">150</text>
<text x="117.2" y="442.9" font-size="7.4" text-anchor="middle" font-weight="normal" fill="#1c1c1c" stroke="#1c1c1c" stroke-width="0.18">200</text>
<text x="134.6" y="442.9" font-size="7.4" text-anchor="middle" font-weight="normal" fill="#1c1c1c" stroke="#1c1c1c" stroke-width="0.18">250</text>
<text x="152.2" y="442.9" font-size="7.4" text-anchor="middle" font-weight="normal" fill="#1c1c1c" stroke="#1c1c1c" stroke-width="0.18">300</text>
<text x="170" y="442.9" font-size="7.4" text-anchor="middle" font-weight="normal" fill="#1c1c1c" stroke="#1c1c1c" stroke-width="0.18">350</text>
<text x="108" y="455" font-size="9" text-anchor="middle" fill="#1c1c1c" textLength="39" lengthAdjust="spacingAndGlyphs" stroke="#1c1c1c" stroke-width="0.45">Time (second)</text>
<text transform="translate(19.7 404.4) rotate(-90)" x="0" y="0" font-size="9" text-anchor="middle" font-weight="normal" fill="#1c1c1c" textLength="66.4" lengthAdjust="spacingAndGlyphs" stroke="#1c1c1c" stroke-width="0.45">ROS level (OD550 A.U.)</text>
<line x1="100.7" y1="360.5" x2="111.5" y2="360.5" stroke="#263a66" stroke-width="1.5"/>
<text x="115.2" y="363" font-size="6.9" text-anchor="start" font-weight="normal" fill="#1c1c1c" stroke="#1c1c1c" stroke-width="0.18">Cre</text>
<line x1="132.5" y1="360.5" x2="143.3" y2="360.5" stroke="#a80028" stroke-width="1.5"/>
<text x="146.9" y="363" font-size="6.9" text-anchor="start" font-weight="normal" fill="#1c1c1c" textLength="23.2" lengthAdjust="spacingAndGlyphs" stroke="#1c1c1c" stroke-width="0.18">K4-cKO</text>
<path d="M46.5 425.7 C46.77 424.47 47.38 420.43 48.1 418.3 C48.82 416.17 49.68 414.25 50.8 412.9 C51.92 411.55 53.23 411.15 54.8 410.2 C56.37 409.25 58.52 408.05 60.2 407.2 C61.88 406.35 63.67 406.4 64.9 405.1 C66.13 403.8 66.7 401.35 67.6 399.4 C68.5 397.45 69.18 395.08 70.3 393.4 C71.42 391.72 72.73 390.43 74.3 389.3 C75.87 388.17 78.35 387.83 79.7 386.6 C81.05 385.37 81.5 383.62 82.4 381.9 C83.3 380.18 84.32 377.42 85.1 376.3 C85.88 375.18 86.43 375.27 87.1 375.2 C87.77 375.13 88.32 376.35 89.1 375.9 C89.88 375.45 90.9 373.47 91.8 372.5 C92.7 371.53 93.6 370.43 94.5 370.1 C95.4 369.77 96.08 370.05 97.2 370.5 C98.32 370.95 100.02 372.32 101.2 372.8 C102.38 373.28 103.18 373.37 104.3 373.4 C105.42 373.43 106.57 373.85 107.9 373 C109.23 372.15 111.08 368.82 112.3 368.3 C113.52 367.78 114.12 369.58 115.2 369.9 C116.28 370.22 117.6 369.43 118.8 370.2 C120 370.97 121.45 373.23 122.4 374.5 C123.35 375.77 123.55 377.63 124.5 377.8 C125.45 377.97 127.02 375.57 128.1 375.5 C129.18 375.43 129.92 377.02 131 377.4 C132.08 377.78 133.4 377.13 134.6 377.8 C135.8 378.47 136.87 380.2 138.2 381.4 C139.53 382.6 141.27 384.35 142.6 385 C143.93 385.65 144.88 385.3 146.2 385.3 C147.52 385.3 149.07 384.28 150.5 385 C151.93 385.72 153.23 388.23 154.8 389.6 C156.37 390.97 159.05 392.6 159.9 393.2" fill="none" stroke="#263a66" stroke-width="1.8" stroke-linejoin="round" stroke-linecap="round"/>
<path d="M46.5 444.2 C47.09 444.39 47.02 445.33 48.7 444.9 C50.38 444.47 50.8 442.41 52.8 442.6 C54.8 442.79 54.49 445.71 56.2 445.6 C57.91 445.49 57.6 442.28 59.2 442.2 C60.8 442.12 60.15 445.83 62.2 445.3 C64.25 444.77 64.74 442.09 66.9 440.2 C69.06 438.31 68.51 438.2 70.3 438.2 C72.09 438.2 71.44 441.29 73.6 440.2 C75.76 439.11 76.43 436.07 78.4 434.1 C80.37 432.13 79.03 432.53 81 432.8 C82.97 433.07 82.92 435.47 85.8 435.1 C88.68 434.73 89.11 432.84 91.8 431.4 C94.49 429.96 93.55 429.33 95.9 429.7 C98.25 430.07 98.55 432.37 100.6 432.8 C102.65 433.23 101.84 431.17 103.6 431.3 C105.36 431.43 104.88 433.43 107.2 433.3 C109.52 433.17 109.61 430.8 112.3 430.8 C114.99 430.8 114.61 432.02 117.3 433.3 C119.99 434.58 120.08 435.68 122.4 435.6 C124.72 435.52 124.27 435.05 126 433 C127.73 430.95 127.17 428.59 128.9 427.9 C130.63 427.21 130.21 429.63 132.5 430.4 C134.79 431.17 135.39 430.11 137.5 430.8 C139.61 431.49 138.93 431.72 140.4 433 C141.87 434.28 141.64 435.52 143 435.6 C144.36 435.68 144.09 434.39 145.5 433.3 C146.91 432.21 146.38 431.5 148.3 431.5 C150.22 431.5 150.57 433.09 152.7 433.3 C154.83 433.51 154.38 433.15 156.3 432.3 C158.22 431.45 158.94 430.69 159.9 430.1" fill="none" stroke="#a80028" stroke-width="1.8" stroke-linejoin="round" stroke-linecap="round"/>
<text x="196.6" y="337.1" font-size="12" text-anchor="start" font-weight="bold" fill="#000" stroke="#000" stroke-width="0.3">G</text>
<text x="245" y="343.3" font-size="8.3" text-anchor="middle" font-weight="normal" fill="#1c1c1c" stroke="#1c1c1c" stroke-width="0.18">E. coli</text>
<text transform="translate(211.1 377.3) rotate(-90)" font-size="8" text-anchor="middle" fill="#1c1c1c">Cre</text>
<text transform="translate(211.1 431.8) rotate(-90)" font-size="8" text-anchor="middle" fill="#1c1c1c">K4-cKO</text>
<rect x="217.3" y="401" width="55" height="4" fill="#cfcfcf"/>
<rect x="216.8" y="348.8" width="56.1" height="53.6" fill="#070707"/>
<rect x="217.3" y="403.8" width="54.6" height="53.3" fill="#070707"/>
<g filter="url(#blur05)">
<ellipse cx="245.3" cy="375.4" rx="25.6" ry="25.2" fill="url(#plate)" stroke="#5a5a5a" stroke-width="1.3"/>
<ellipse cx="245" cy="430.4" rx="25.4" ry="24.9" fill="url(#plate)" stroke="#5a5a5a" stroke-width="1.3"/>
<path d="M270.6 366 A25.6 25.2 0 0 1 264 392.5" fill="none" stroke="#a8a8a8" stroke-width="1.8"/>
<path d="M221.5 386 A25.6 25.2 0 0 1 222.3 364" fill="none" stroke="#8c8c8c" stroke-width="1.8"/>
<path d="M270 423 A25.4 24.9 0 0 1 266 444.5" fill="none" stroke="#a0a0a0" stroke-width="1.8"/>
<path d="M221.5 443 A25.4 24.9 0 0 1 220.8 421" fill="none" stroke="#8c8c8c" stroke-width="1.8"/>
<ellipse cx="257.3" cy="395.6" rx="2.6" ry="1.5" fill="#a8a8a8"/>
<ellipse cx="259.5" cy="450.6" rx="2.4" ry="1.3" fill="#9a9a9a" transform="rotate(-30 259.5 450.6)"/>
<circle cx="236.1" cy="356.7" r="0.95" fill="#d2d2d2"/>
<circle cx="251.3" cy="357.3" r="0.95" fill="#d2d2d2"/>
<circle cx="244.4" cy="360.2" r="0.95" fill="#d2d2d2"/>
<circle cx="246.5" cy="360.2" r="0.95" fill="#d2d2d2"/>
<circle cx="238.9" cy="363" r="0.95" fill="#d2d2d2"/>
<circle cx="236.1" cy="366.2" r="0.95" fill="#d2d2d2"/>
<circle cx="240.6" cy="366.2" r="0.95" fill="#d2d2d2"/>
<circle cx="249.8" cy="364.9" r="0.95" fill="#d2d2d2"/>
<circle cx="227.9" cy="369.1" r="0.95" fill="#d2d2d2"/>
<circle cx="238" cy="369.4" r="0.95" fill="#d2d2d2"/>
<circle cx="242.5" cy="370.9" r="0.95" fill="#d2d2d2"/>
<circle cx="248.5" cy="371.3" r="0.95" fill="#d2d2d2"/>
<circle cx="250.7" cy="369.1" r="0.95" fill="#d2d2d2"/>
<circle cx="262.1" cy="368.7" r="0.95" fill="#d2d2d2"/>
<circle cx="229.1" cy="370.9" r="0.95" fill="#d2d2d2"/>
<circle cx="226" cy="374.2" r="0.95" fill="#d2d2d2"/>
<circle cx="229.1" cy="374.2" r="0.95" fill="#d2d2d2"/>
<circle cx="233.6" cy="374.7" r="0.95" fill="#d2d2d2"/>
<circle cx="267.2" cy="374.5" r="0.95" fill="#d2d2d2"/>
<circle cx="222.8" cy="376.4" r="0.95" fill="#d2d2d2"/>
<circle cx="234.8" cy="377.6" r="0.95" fill="#d2d2d2"/>
<circle cx="237.4" cy="378" r="0.95" fill="#d2d2d2"/>
<circle cx="252.6" cy="378.5" r="0.95" fill="#d2d2d2"/>
<circle cx="258.7" cy="378" r="0.95" fill="#d2d2d2"/>
<circle cx="251.1" cy="379.8" r="0.95" fill="#d2d2d2"/>
<circle cx="222.8" cy="380.2" r="0.95" fill="#d2d2d2"/>
<circle cx="232.3" cy="380.8" r="0.95" fill="#d2d2d2"/>
<circle cx="224.1" cy="383.3" r="0.95" fill="#d2d2d2"/>
<circle cx="244.4" cy="383.3" r="0.95" fill="#d2d2d2"/>
<circle cx="252" cy="383.1" r="0.95" fill="#d2d2d2"/>
<circle cx="256.7" cy="382.7" r="0.95" fill="#d2d2d2"/>
<circle cx="230.8" cy="387.4" r="0.95" fill="#d2d2d2"/>
<circle cx="237.4" cy="386.9" r="0.95" fill="#d2d2d2"/>
<circle cx="261.7" cy="387.8" r="0.95" fill="#d2d2d2"/>
<circle cx="262.8" cy="391" r="0.95" fill="#d2d2d2"/>
<circle cx="229.8" cy="392.9" r="0.95" fill="#d2d2d2"/>
<circle cx="239.9" cy="396.7" r="0.95" fill="#d2d2d2"/>
<circle cx="230.34" cy="432.79" r="0.82" fill="#b8b8b8"/>
<circle cx="257.43" cy="422.41" r="0.82" fill="#b8b8b8"/>
<circle cx="229.31" cy="427.76" r="0.82" fill="#b8b8b8"/>
<circle cx="250.85" cy="441.28" r="0.82" fill="#b8b8b8"/>
<circle cx="232.49" cy="415.87" r="0.82" fill="#b8b8b8"/>
<circle cx="254.37" cy="434.48" r="0.82" fill="#b8b8b8"/>
<circle cx="260.53" cy="437.95" r="0.82" fill="#b8b8b8"/>
<circle cx="243.54" cy="424.76" r="0.82" fill="#b8b8b8"/>
<circle cx="265.01" cy="426.36" r="0.82" fill="#b8b8b8"/>
<circle cx="235.87" cy="415.92" r="0.82" fill="#b8b8b8"/>
<circle cx="246.38" cy="430.49" r="0.82" fill="#b8b8b8"/>
<circle cx="240.08" cy="427.66" r="0.82" fill="#b8b8b8"/>
<circle cx="248.7" cy="437.41" r="0.82" fill="#b8b8b8"/>
<circle cx="258.71" cy="430.99" r="0.82" fill="#b8b8b8"/>
<circle cx="227.48" cy="435.02" r="0.82" fill="#b8b8b8"/>
<circle cx="234.57" cy="431.22" r="0.82" fill="#b8b8b8"/>
<circle cx="254.26" cy="414.68" r="0.82" fill="#b8b8b8"/>
<circle cx="241.08" cy="437.06" r="0.82" fill="#b8b8b8"/>
<circle cx="243.68" cy="433.51" r="0.82" fill="#b8b8b8"/>
<circle cx="246.33" cy="416.24" r="0.82" fill="#b8b8b8"/>
<circle cx="252.27" cy="418.55" r="0.82" fill="#b8b8b8"/>
<circle cx="263.22" cy="423.83" r="0.82" fill="#b8b8b8"/>
<circle cx="254.39" cy="428.53" r="0.82" fill="#b8b8b8"/>
<circle cx="257.83" cy="426.99" r="0.82" fill="#b8b8b8"/>
<circle cx="259.58" cy="435.34" r="0.82" fill="#b8b8b8"/>
<circle cx="249.04" cy="431.33" r="0.82" fill="#b8b8b8"/>
<circle cx="247.52" cy="420.65" r="0.82" fill="#b8b8b8"/>
<circle cx="232.23" cy="423.76" r="0.82" fill="#b8b8b8"/>
<circle cx="251.39" cy="444.02" r="0.82" fill="#b8b8b8"/>
<circle cx="256.19" cy="439.96" r="0.82" fill="#b8b8b8"/>
<circle cx="254.89" cy="436.94" r="0.82" fill="#b8b8b8"/>
<circle cx="238.57" cy="445.77" r="0.82" fill="#b8b8b8"/>
<circle cx="248.15" cy="440.36" r="0.82" fill="#b8b8b8"/>
<circle cx="245.7" cy="443.59" r="0.82" fill="#b8b8b8"/>
<circle cx="235.45" cy="437.96" r="0.82" fill="#b8b8b8"/>
<circle cx="227.97" cy="420.31" r="0.82" fill="#b8b8b8"/>
<circle cx="260.55" cy="418.92" r="0.82" fill="#b8b8b8"/>
<circle cx="245.03" cy="436.98" r="0.82" fill="#b8b8b8"/>
<circle cx="243.68" cy="409.66" r="0.82" fill="#b8b8b8"/>
<circle cx="256.76" cy="418.3" r="0.82" fill="#b8b8b8"/>
<circle cx="239.18" cy="431.47" r="0.82" fill="#b8b8b8"/>
<circle cx="264.52" cy="433.1" r="0.82" fill="#b8b8b8"/>
<circle cx="244.18" cy="446.16" r="0.82" fill="#b8b8b8"/>
<circle cx="235.87" cy="422.49" r="0.82" fill="#b8b8b8"/>
<circle cx="253.04" cy="424.14" r="0.82" fill="#b8b8b8"/>
<circle cx="238.32" cy="425.41" r="0.82" fill="#b8b8b8"/>
<circle cx="232.47" cy="442.5" r="0.82" fill="#b8b8b8"/>
<circle cx="261.49" cy="426.57" r="0.82" fill="#b8b8b8"/>
<circle cx="239.34" cy="414.62" r="0.82" fill="#b8b8b8"/>
<circle cx="264.43" cy="430.58" r="0.82" fill="#b8b8b8"/>
<circle cx="238.9" cy="410.29" r="0.82" fill="#b8b8b8"/>
<circle cx="261.21" cy="430.57" r="0.82" fill="#b8b8b8"/>
<circle cx="227.59" cy="430.35" r="0.82" fill="#b8b8b8"/>
<circle cx="243.61" cy="412.22" r="0.82" fill="#b8b8b8"/>
<circle cx="250.27" cy="410.56" r="0.82" fill="#b8b8b8"/>
<circle cx="234.87" cy="441.43" r="0.82" fill="#b8b8b8"/>
<circle cx="229.19" cy="437.11" r="0.82" fill="#b8b8b8"/>
<circle cx="236.03" cy="419.99" r="0.82" fill="#b8b8b8"/>
<circle cx="231.11" cy="420.96" r="0.82" fill="#b8b8b8"/>
<circle cx="243.26" cy="416.48" r="0.82" fill="#b8b8b8"/>
<circle cx="237.22" cy="442.57" r="0.82" fill="#b8b8b8"/>
<circle cx="254.28" cy="420.25" r="0.82" fill="#b8b8b8"/>
<circle cx="247.91" cy="425.66" r="0.82" fill="#b8b8b8"/>
<circle cx="241.91" cy="429.36" r="0.82" fill="#b8b8b8"/>
<circle cx="241.34" cy="420.53" r="0.82" fill="#b8b8b8"/>
<circle cx="243.31" cy="439.84" r="0.82" fill="#b8b8b8"/>
<circle cx="230.69" cy="439.25" r="0.82" fill="#b8b8b8"/>
<circle cx="260.88" cy="421.7" r="0.82" fill="#b8b8b8"/>
<circle cx="249.45" cy="446.49" r="0.82" fill="#b8b8b8"/>
<circle cx="227.26" cy="424.51" r="0.82" fill="#b8b8b8"/>
<circle cx="256.81" cy="434.93" r="0.82" fill="#b8b8b8"/>
<circle cx="250.02" cy="434.3" r="0.82" fill="#b8b8b8"/>
<circle cx="250.71" cy="426.71" r="0.82" fill="#b8b8b8"/>
<circle cx="240.22" cy="439.63" r="0.82" fill="#b8b8b8"/>
<circle cx="252.81" cy="411.57" r="0.82" fill="#b8b8b8"/>
<circle cx="251.15" cy="421.14" r="0.82" fill="#b8b8b8"/>
<circle cx="247.04" cy="433.3" r="0.82" fill="#b8b8b8"/>
<circle cx="255.95" cy="412.15" r="0.82" fill="#b8b8b8"/>
<circle cx="263.5" cy="435.71" r="0.82" fill="#b8b8b8"/>
<circle cx="250.16" cy="417.11" r="0.82" fill="#b8b8b8"/>
<circle cx="237.35" cy="439.68" r="0.82" fill="#b8b8b8"/>
<circle cx="239.01" cy="418.72" r="0.82" fill="#b8b8b8"/>
<circle cx="248.07" cy="428.13" r="0.82" fill="#b8b8b8"/>
<circle cx="253.61" cy="431.18" r="0.82" fill="#b8b8b8"/>
<circle cx="237.72" cy="436.28" r="0.82" fill="#b8b8b8"/>
<circle cx="241.37" cy="444.62" r="0.82" fill="#b8b8b8"/>
<circle cx="254.86" cy="442.59" r="0.82" fill="#b8b8b8"/>
<circle cx="244.01" cy="419.04" r="0.82" fill="#b8b8b8"/>
<circle cx="259.62" cy="440.57" r="0.82" fill="#b8b8b8"/>
<circle cx="248.47" cy="413.46" r="0.82" fill="#b8b8b8"/>
<circle cx="250.88" cy="414.17" r="0.82" fill="#b8b8b8"/>
<circle cx="233.4" cy="412.57" r="0.82" fill="#b8b8b8"/>
<circle cx="233.81" cy="433.7" r="0.82" fill="#b8b8b8"/>
<circle cx="245.9" cy="423.2" r="0.82" fill="#b8b8b8"/>
<circle cx="248.82" cy="443.93" r="0.82" fill="#b8b8b8"/>
<circle cx="239.05" cy="434.12" r="0.82" fill="#b8b8b8"/>
<circle cx="241.87" cy="447.65" r="0.82" fill="#b8b8b8"/>
<circle cx="231.08" cy="430.16" r="0.82" fill="#b8b8b8"/>
<circle cx="260.09" cy="424.38" r="0.82" fill="#b8b8b8"/>
<circle cx="225.42" cy="433.06" r="0.82" fill="#b8b8b8"/>
</g>
<line x1="305.8" y1="342" x2="305.8" y2="449.9" stroke="#000" stroke-width="1.6"/>
<line x1="305" y1="449.2" x2="360" y2="449.2" stroke="#000" stroke-width="1.5"/>
<line x1="302.6" y1="345" x2="305.8" y2="345" stroke="#000" stroke-width="1.1"/>
<text x="298.8" y="348.02" font-size="8.5" text-anchor="end" font-weight="normal" fill="#1c1c1c" stroke="#1c1c1c" stroke-width="0.18">7</text>
<line x1="302.6" y1="359.8" x2="305.8" y2="359.8" stroke="#000" stroke-width="1.1"/>
<text x="298.8" y="362.82" font-size="8.5" text-anchor="end" font-weight="normal" fill="#1c1c1c" stroke="#1c1c1c" stroke-width="0.18">6</text>
<line x1="302.6" y1="374.7" x2="305.8" y2="374.7" stroke="#000" stroke-width="1.1"/>
<text x="298.8" y="377.72" font-size="8.5" text-anchor="end" font-weight="normal" fill="#1c1c1c" stroke="#1c1c1c" stroke-width="0.18">5</text>
<line x1="302.6" y1="389.5" x2="305.8" y2="389.5" stroke="#000" stroke-width="1.1"/>
<text x="298.8" y="392.52" font-size="8.5" text-anchor="end" font-weight="normal" fill="#1c1c1c" stroke="#1c1c1c" stroke-width="0.18">4</text>
<line x1="302.6" y1="404.3" x2="305.8" y2="404.3" stroke="#000" stroke-width="1.1"/>
<text x="298.8" y="407.32" font-size="8.5" text-anchor="end" font-weight="normal" fill="#1c1c1c" stroke="#1c1c1c" stroke-width="0.18">3</text>
<line x1="302.6" y1="419.1" x2="305.8" y2="419.1" stroke="#000" stroke-width="1.1"/>
<text x="298.8" y="422.12" font-size="8.5" text-anchor="end" font-weight="normal" fill="#1c1c1c" stroke="#1c1c1c" stroke-width="0.18">2</text>
<line x1="302.6" y1="434" x2="305.8" y2="434" stroke="#000" stroke-width="1.1"/>
<text x="298.8" y="437.02" font-size="8.5" text-anchor="end" font-weight="normal" fill="#1c1c1c" stroke="#1c1c1c" stroke-width="0.18">1</text>
<line x1="302.6" y1="448.8" x2="305.8" y2="448.8" stroke="#000" stroke-width="1.1"/>
<text x="298.8" y="451.82" font-size="8.5" text-anchor="end" font-weight="normal" fill="#1c1c1c" stroke="#1c1c1c" stroke-width="0.18">0</text>
<line x1="305.8" y1="449.2" x2="305.8" y2="452.1" stroke="#000" stroke-width="1.1"/>
<line x1="319.3" y1="449.2" x2="319.3" y2="452.1" stroke="#000" stroke-width="1.1"/>
<line x1="344.3" y1="449.2" x2="344.3" y2="452.1" stroke="#000" stroke-width="1.1"/>
<line x1="319.15" y1="392" x2="319.15" y2="400.5" stroke="#1b1b22" stroke-width="1.2"/>
<line x1="316.31" y1="392" x2="321.99" y2="392" stroke="#1b1b22" stroke-width="1.2"/>
<rect x="314" y="399.7" width="10.3" height="49.1" fill="#2e4a7d" stroke="#263b63" stroke-width="0.4"/>
<line x1="344.4" y1="356.3" x2="344.4" y2="369.3" stroke="#1b1b22" stroke-width="1.2"/>
<line x1="341.43" y1="356.3" x2="347.37" y2="356.3" stroke="#1b1b22" stroke-width="1.2"/>
<rect x="339" y="368.5" width="10.8" height="80.3" fill="#a80028" stroke="#8a0020" stroke-width="0.4"/>
<path d="M315.6 351.2 V347.2 H344.8 V351.2" fill="none" stroke="#1c1c1c" stroke-width="1.25"/>
<circle cx="330.2" cy="341.4" r="1.35" fill="#222"/>
<text x="318.3" y="463" font-size="8.25" text-anchor="middle" font-weight="normal" fill="#1c1c1c" stroke="#1c1c1c" stroke-width="0.18">Cre</text>
<text x="345" y="463" font-size="8.25" text-anchor="middle" font-weight="normal" fill="#1c1c1c" stroke="#1c1c1c" stroke-width="0.18">K4-cKO</text>
<text transform="translate(288.8 395.8) rotate(-90)" x="0" y="0" font-size="9" text-anchor="middle" font-weight="normal" fill="#1c1c1c" textLength="92.1" lengthAdjust="spacingAndGlyphs" stroke="#1c1c1c" stroke-width="0.45">CFU (E. coli / 10 neutrophils)</text>
<text x="379.8" y="337.1" font-size="12" text-anchor="start" font-weight="bold" fill="#000" stroke="#000" stroke-width="0.3">H</text>
<text x="465.4" y="350" font-size="8.4" text-anchor="middle" font-weight="bold" fill="#000" textLength="47.8" lengthAdjust="spacingAndGlyphs" stroke="#000" stroke-width="0.2">Neutrophils</text>
<line x1="425" y1="355.1" x2="505.8" y2="355.1" stroke="#111" stroke-width="1.5"/>
<text x="421.4" y="367" font-size="8.3" text-anchor="end" font-weight="normal" fill="#1c1c1c" stroke="#1c1c1c" stroke-width="0.18">LPS:</text>
<line x1="436.6" y1="363.6" x2="438.4" y2="363.6" stroke="#333" stroke-width="0.9"/>
<line x1="453.6" y1="362.8" x2="458.2" y2="362.8" stroke="#222" stroke-width="0.9"/>
<line x1="455.9" y1="360.5" x2="455.9" y2="365.1" stroke="#222" stroke-width="0.9"/>
<line x1="474.3" y1="363.6" x2="476.1" y2="363.6" stroke="#333" stroke-width="0.9"/>
<line x1="490.9" y1="362.8" x2="495.5" y2="362.8" stroke="#222" stroke-width="0.9"/>
<line x1="493.2" y1="360.5" x2="493.2" y2="365.1" stroke="#222" stroke-width="0.9"/>
<rect x="424.3" y="371.3" width="82.4" height="19.9" fill="#a4a4a4"/>
<rect x="424.3" y="396.1" width="82.4" height="21.4" fill="#9c9c9c"/>
<rect x="424.3" y="422.5" width="82.4" height="21.6" fill="#a2a2a2"/>
<g filter="url(#blur1)">
<rect x="448.1" y="376.7" width="14.7" height="7.3" rx="2.2" fill="#1e1e1e"/>
<rect x="486" y="377.6" width="12.2" height="6.4" rx="2.4" fill="#303030"/>
<rect x="431.1" y="403.6" width="15" height="10.6" rx="3" fill="#2a2a2a"/>
<rect x="450.6" y="405.3" width="13.6" height="6.2" rx="2.8" fill="#747474"/>
<rect x="468.4" y="403.2" width="16.3" height="11.4" rx="3.4" fill="#1c1c1c"/>
<rect x="488.2" y="403.6" width="15.2" height="9" rx="3.2" fill="#222"/>
<rect x="433.5" y="431.1" width="13.4" height="5" rx="2.2" fill="#222"/>
<rect x="450.6" y="431.1" width="13.6" height="5" rx="2.2" fill="#222"/>
<rect x="468.6" y="431.1" width="13" height="5" rx="2.2" fill="#222"/>
<rect x="485.5" y="431.1" width="12.5" height="5" rx="2.2" fill="#222"/>
</g>
<line x1="426.7" y1="447.7" x2="465.1" y2="447.7" stroke="#111" stroke-width="1.5"/>
<line x1="471" y1="447.7" x2="507.5" y2="447.7" stroke="#111" stroke-width="1.5"/>
<text x="446" y="457.6" font-size="8.3" text-anchor="middle" font-weight="normal" fill="#1c1c1c" stroke="#1c1c1c" stroke-width="0.18">Cre</text>
<text x="489.3" y="457.6" font-size="8.3" text-anchor="middle" font-weight="normal" fill="#1c1c1c" stroke="#1c1c1c" stroke-width="0.18">K4-cKO</text>
<text x="421.4" y="384.3" font-size="8.7" text-anchor="end" font-weight="normal" fill="#1c1c1c" stroke="#1c1c1c" stroke-width="0.18">p-IκBα</text>
<text x="421.4" y="410.9" font-size="8.7" text-anchor="end" font-weight="normal" fill="#1c1c1c" stroke="#1c1c1c" stroke-width="0.18">IκBα</text>
<text x="421.2" y="437.5" font-size="8.7" text-anchor="end" font-weight="normal" fill="#1c1c1c" stroke="#1c1c1c" stroke-width="0.18">α-tubulin</text>
<text x="10" y="492.5" font-size="12" text-anchor="start" font-weight="bold" fill="#000" stroke="#000" stroke-width="0.3">I</text>
<line x1="46.3" y1="506.5" x2="46.3" y2="618.4" stroke="#000" stroke-width="1.6"/>
<line x1="45.5" y1="617.7" x2="118.8" y2="617.7" stroke="#000" stroke-width="1.5"/>
<line x1="43.1" y1="509.8" x2="46.3" y2="509.8" stroke="#000" stroke-width="1.1"/>
<text x="39.3" y="512.82" font-size="8.5" text-anchor="end" font-weight="normal" fill="#1c1c1c" stroke="#1c1c1c" stroke-width="0.18">4</text>
<line x1="43.1" y1="536.6" x2="46.3" y2="536.6" stroke="#000" stroke-width="1.1"/>
<text x="39.3" y="539.62" font-size="8.5" text-anchor="end" font-weight="normal" fill="#1c1c1c" stroke="#1c1c1c" stroke-width="0.18">3</text>
<line x1="43.1" y1="563.5" x2="46.3" y2="563.5" stroke="#000" stroke-width="1.1"/>
<text x="39.3" y="566.52" font-size="8.5" text-anchor="end" font-weight="normal" fill="#1c1c1c" stroke="#1c1c1c" stroke-width="0.18">2</text>
<line x1="43.1" y1="590.4" x2="46.3" y2="590.4" stroke="#000" stroke-width="1.1"/>
<text x="39.3" y="593.42" font-size="8.5" text-anchor="end" font-weight="normal" fill="#1c1c1c" stroke="#1c1c1c" stroke-width="0.18">1</text>
<line x1="43.1" y1="617.3" x2="46.3" y2="617.3" stroke="#000" stroke-width="1.1"/>
<text x="39.3" y="620.32" font-size="8.5" text-anchor="end" font-weight="normal" fill="#1c1c1c" stroke="#1c1c1c" stroke-width="0.18">0</text>
<line x1="46.3" y1="617.7" x2="46.3" y2="620.6" stroke="#000" stroke-width="1.1"/>
<line x1="66.3" y1="617.7" x2="66.3" y2="620.6" stroke="#000" stroke-width="1.1"/>
<line x1="102" y1="617.7" x2="102" y2="620.6" stroke="#000" stroke-width="1.1"/>
<line x1="58.8" y1="588" x2="58.8" y2="592" stroke="#1b1b22" stroke-width="1.2"/>
<line x1="55.88" y1="588" x2="61.71" y2="588" stroke="#1b1b22" stroke-width="1.2"/>
<rect x="53.5" y="591.2" width="10.6" height="26.1" fill="#2e4a7d" stroke="#263b63" stroke-width="0.4"/>
<line x1="74.65" y1="601" x2="74.65" y2="605" stroke="#1b1b22" stroke-width="1.2"/>
<line x1="71.81" y1="601" x2="77.49" y2="601" stroke="#1b1b22" stroke-width="1.2"/>
<rect x="69.5" y="604.2" width="10.3" height="13.1" fill="#a80028" stroke="#8a0020" stroke-width="0.4"/>
<line x1="94.65" y1="526.5" x2="94.65" y2="535.3" stroke="#1b1b22" stroke-width="1.2"/>
<line x1="91.81" y1="526.5" x2="97.49" y2="526.5" stroke="#1b1b22" stroke-width="1.2"/>
<rect x="89.5" y="534.5" width="10.3" height="82.8" fill="#2e4a7d" stroke="#263b63" stroke-width="0.4"/>
<line x1="110.4" y1="606" x2="110.4" y2="610.3" stroke="#1b1b22" stroke-width="1.2"/>
<line x1="107.54" y1="606" x2="113.26" y2="606" stroke="#1b1b22" stroke-width="1.2"/>
<rect x="105.2" y="609.5" width="10.4" height="7.8" fill="#a80028" stroke="#8a0020" stroke-width="0.4"/>
<rect x="47.5" y="492.3" width="9" height="6" fill="#2e4a7d"/>
<text x="60" y="498.2" font-size="8" text-anchor="start" font-weight="normal" fill="#1c1c1c" stroke="#1c1c1c" stroke-width="0.18">Cre</text>
<rect x="80" y="492.3" width="9" height="6" fill="#a80028"/>
<text x="93" y="498.2" font-size="8" text-anchor="start" font-weight="normal" fill="#1c1c1c" stroke="#1c1c1c" stroke-width="0.18">K4-cKO</text>
<path d="M94.6 516.4 V512.4 H109.6 V516.4" fill="none" stroke="#1c1c1c" stroke-width="1.25"/>
<circle cx="102.1" cy="506.9" r="1.35" fill="#222"/>
<text x="66.8" y="631" font-size="8.25" text-anchor="middle" font-weight="normal" fill="#1c1c1c" stroke="#1c1c1c" stroke-width="0.18">Control</text>
<text x="102.5" y="631" font-size="8.25" text-anchor="middle" font-weight="normal" fill="#1c1c1c" stroke="#1c1c1c" stroke-width="0.18">LPS</text>
<text transform="translate(29.5 562.5) rotate(-90)" x="0" y="0" font-size="9" text-anchor="middle" font-weight="normal" fill="#1c1c1c" textLength="89.3" lengthAdjust="spacingAndGlyphs" stroke="#1c1c1c" stroke-width="0.45">iKB-alpha mRNA level (fold)</text>
<line x1="157.3" y1="505.3" x2="157.3" y2="618.4" stroke="#000" stroke-width="1.6"/>
<line x1="156.5" y1="617.7" x2="239.6" y2="617.7" stroke="#000" stroke-width="1.5"/>
<line x1="154.1" y1="508.5" x2="157.3" y2="508.5" stroke="#000" stroke-width="1.1"/>
<text x="150.3" y="511.52" font-size="8.5" text-anchor="end" font-weight="normal" fill="#1c1c1c" stroke="#1c1c1c" stroke-width="0.18">20</text>
<line x1="154.1" y1="535.7" x2="157.3" y2="535.7" stroke="#000" stroke-width="1.1"/>
<text x="150.3" y="538.72" font-size="8.5" text-anchor="end" font-weight="normal" fill="#1c1c1c" stroke="#1c1c1c" stroke-width="0.18">15</text>
<line x1="154.1" y1="562.9" x2="157.3" y2="562.9" stroke="#000" stroke-width="1.1"/>
<text x="150.3" y="565.92" font-size="8.5" text-anchor="end" font-weight="normal" fill="#1c1c1c" stroke="#1c1c1c" stroke-width="0.18">10</text>
<line x1="154.1" y1="590.1" x2="157.3" y2="590.1" stroke="#000" stroke-width="1.1"/>
<text x="150.3" y="593.12" font-size="8.5" text-anchor="end" font-weight="normal" fill="#1c1c1c" stroke="#1c1c1c" stroke-width="0.18">5</text>
<line x1="154.1" y1="617.3" x2="157.3" y2="617.3" stroke="#000" stroke-width="1.1"/>
<text x="150.3" y="620.32" font-size="8.5" text-anchor="end" font-weight="normal" fill="#1c1c1c" stroke="#1c1c1c" stroke-width="0.18">0</text>
<line x1="157.5" y1="617.7" x2="157.5" y2="620.6" stroke="#000" stroke-width="1.1"/>
<line x1="177.5" y1="617.7" x2="177.5" y2="620.6" stroke="#000" stroke-width="1.1"/>
<line x1="218.5" y1="617.7" x2="218.5" y2="620.6" stroke="#000" stroke-width="1.1"/>
<line x1="169.75" y1="611" x2="169.75" y2="612.5" stroke="#1b1b22" stroke-width="1.2"/>
<line x1="166.97" y1="611" x2="172.53" y2="611" stroke="#1b1b22" stroke-width="1.2"/>
<rect x="164.7" y="611.7" width="10.1" height="5.6" fill="#2e4a7d" stroke="#263b63" stroke-width="0.4"/>
<line x1="185.65" y1="612" x2="185.65" y2="613.8" stroke="#1b1b22" stroke-width="1.2"/>
<line x1="182.66" y1="612" x2="188.64" y2="612" stroke="#1b1b22" stroke-width="1.2"/>
<rect x="180.2" y="613" width="10.9" height="4.3" fill="#a80028" stroke="#8a0020" stroke-width="0.4"/>
<line x1="210.4" y1="518.5" x2="210.4" y2="529.5" stroke="#1b1b22" stroke-width="1.2"/>
<line x1="207.54" y1="518.5" x2="213.26" y2="518.5" stroke="#1b1b22" stroke-width="1.2"/>
<rect x="205.2" y="528.7" width="10.4" height="88.6" fill="#2e4a7d" stroke="#263b63" stroke-width="0.4"/>
<line x1="226.3" y1="607.8" x2="226.3" y2="610.3" stroke="#1b1b22" stroke-width="1.2"/>
<line x1="223.39" y1="607.8" x2="229.22" y2="607.8" stroke="#1b1b22" stroke-width="1.2"/>
<rect x="221" y="609.5" width="10.6" height="7.8" fill="#a80028" stroke="#8a0020" stroke-width="0.4"/>
<rect x="158.3" y="492.3" width="9" height="6" fill="#2e4a7d"/>
<text x="171.3" y="498.2" font-size="8" text-anchor="start" font-weight="normal" fill="#1c1c1c" stroke="#1c1c1c" stroke-width="0.18">Cre</text>
<rect x="190.8" y="492.3" width="9" height="6" fill="#a80028"/>
<text x="203.8" y="498.2" font-size="8" text-anchor="start" font-weight="normal" fill="#1c1c1c" stroke="#1c1c1c" stroke-width="0.18">K4-cKO</text>
<path d="M209.9 516.5 V512.4 H225.3 V516.5" fill="none" stroke="#1c1c1c" stroke-width="1.25"/>
<circle cx="217.6" cy="506.7" r="1.35" fill="#222"/>
<text x="177.5" y="631" font-size="8.25" text-anchor="middle" font-weight="normal" fill="#1c1c1c" stroke="#1c1c1c" stroke-width="0.18">Control</text>
<text x="218.3" y="631" font-size="8.25" text-anchor="middle" font-weight="normal" fill="#1c1c1c" stroke="#1c1c1c" stroke-width="0.18">LPS</text>
<text transform="translate(133.2 561.4) rotate(-90)" x="0" y="0" font-size="9" text-anchor="middle" font-weight="normal" fill="#1c1c1c" textLength="76.8" lengthAdjust="spacingAndGlyphs" stroke="#1c1c1c" stroke-width="0.45">TNFα mRNA level (fold)</text>
<text x="258.2" y="492.5" font-size="12" text-anchor="start" font-weight="bold" fill="#000" stroke="#000" stroke-width="0.3">J</text>
<line x1="295.3" y1="505.7" x2="295.3" y2="618.4" stroke="#000" stroke-width="1.6"/>
<line x1="294.5" y1="617.7" x2="370" y2="617.7" stroke="#000" stroke-width="1.5"/>
<line x1="292.1" y1="509.3" x2="295.3" y2="509.3" stroke="#000" stroke-width="1.1"/>
<text x="288.3" y="512.32" font-size="8.5" text-anchor="end" font-weight="normal" fill="#1c1c1c" stroke="#1c1c1c" stroke-width="0.18">2.5</text>
<line x1="292.1" y1="530.9" x2="295.3" y2="530.9" stroke="#000" stroke-width="1.1"/>
<text x="288.3" y="533.92" font-size="8.5" text-anchor="end" font-weight="normal" fill="#1c1c1c" stroke="#1c1c1c" stroke-width="0.18">2</text>
<line x1="292.1" y1="552.5" x2="295.3" y2="552.5" stroke="#000" stroke-width="1.1"/>
<text x="288.3" y="555.52" font-size="8.5" text-anchor="end" font-weight="normal" fill="#1c1c1c" stroke="#1c1c1c" stroke-width="0.18">1.5</text>
<line x1="292.1" y1="574.1" x2="295.3" y2="574.1" stroke="#000" stroke-width="1.1"/>
<text x="288.3" y="577.12" font-size="8.5" text-anchor="end" font-weight="normal" fill="#1c1c1c" stroke="#1c1c1c" stroke-width="0.18">1</text>
<line x1="292.1" y1="595.7" x2="295.3" y2="595.7" stroke="#000" stroke-width="1.1"/>
<text x="288.3" y="598.72" font-size="8.5" text-anchor="end" font-weight="normal" fill="#1c1c1c" stroke="#1c1c1c" stroke-width="0.18">0.5</text>
<line x1="292.1" y1="617.3" x2="295.3" y2="617.3" stroke="#000" stroke-width="1.1"/>
<text x="288.3" y="620.32" font-size="8.5" text-anchor="end" font-weight="normal" fill="#1c1c1c" stroke="#1c1c1c" stroke-width="0.18">0</text>
<line x1="295.8" y1="617.7" x2="295.8" y2="620.6" stroke="#000" stroke-width="1.1"/>
<line x1="315" y1="617.7" x2="315" y2="620.6" stroke="#000" stroke-width="1.1"/>
<line x1="350" y1="617.7" x2="350" y2="620.6" stroke="#000" stroke-width="1.1"/>
<line x1="306.65" y1="572.3" x2="306.65" y2="573.8" stroke="#1b1b22" stroke-width="1.2"/>
<line x1="303.81" y1="572.3" x2="309.49" y2="572.3" stroke="#1b1b22" stroke-width="1.2"/>
<rect x="301.5" y="573" width="10.3" height="44.3" fill="#2e4a7d" stroke="#263b63" stroke-width="0.4"/>
<rect x="317.2" y="611.7" width="10.9" height="5.6" fill="#a80028" stroke="#8a0020" stroke-width="0.4"/>
<line x1="342.15" y1="525.3" x2="342.15" y2="533.3" stroke="#1b1b22" stroke-width="1.2"/>
<line x1="339.31" y1="525.3" x2="344.99" y2="525.3" stroke="#1b1b22" stroke-width="1.2"/>
<rect x="337" y="532.5" width="10.3" height="84.8" fill="#2e4a7d" stroke="#263b63" stroke-width="0.4"/>
<line x1="358.15" y1="598.5" x2="358.15" y2="603.3" stroke="#1b1b22" stroke-width="1.2"/>
<line x1="355.16" y1="598.5" x2="361.14" y2="598.5" stroke="#1b1b22" stroke-width="1.2"/>
<rect x="352.7" y="602.5" width="10.9" height="14.8" fill="#a80028" stroke="#8a0020" stroke-width="0.4"/>
<rect x="295.8" y="492.3" width="9" height="6" fill="#2e4a7d"/>
<text x="308.8" y="498.2" font-size="8" text-anchor="start" font-weight="normal" fill="#1c1c1c" stroke="#1c1c1c" stroke-width="0.18">Cre</text>
<rect x="328.8" y="492.3" width="9" height="6" fill="#a80028"/>
<text x="341.3" y="498.2" font-size="8" text-anchor="start" font-weight="normal" fill="#1c1c1c" stroke="#1c1c1c" stroke-width="0.18">K4-cKO</text>
<path d="M307.2 566.4 V561.9 H322.5 V566.4" fill="none" stroke="#1c1c1c" stroke-width="1.25"/>
<circle cx="314.85" cy="556.5" r="1.35" fill="#222"/>
<path d="M342.1 516.6 V512.1 H357.2 V516.6" fill="none" stroke="#1c1c1c" stroke-width="1.25"/>
<circle cx="349.65" cy="506.7" r="1.35" fill="#222"/>
<text x="315" y="631" font-size="8.25" text-anchor="middle" font-weight="normal" fill="#1c1c1c" stroke="#1c1c1c" stroke-width="0.18">Control</text>
<text x="350" y="631" font-size="8.25" text-anchor="middle" font-weight="normal" fill="#1c1c1c" stroke="#1c1c1c" stroke-width="0.18">LPS</text>
<text transform="translate(270.5 561.8) rotate(-90)" x="0" y="0" font-size="9" text-anchor="middle" font-weight="normal" fill="#1c1c1c" textLength="74.5" lengthAdjust="spacingAndGlyphs" stroke="#1c1c1c" stroke-width="0.45">CD14 mRNA level (fold)</text>
<text x="389.6" y="492.5" font-size="12" text-anchor="start" font-weight="bold" fill="#000" stroke="#000" stroke-width="0.3">K</text>
<text x="452.7" y="502.2" font-size="8.4" text-anchor="middle" font-weight="bold" fill="#000" textLength="47.8" lengthAdjust="spacingAndGlyphs" stroke="#000" stroke-width="0.2">Neutrophils</text>
<line x1="411.8" y1="506.8" x2="411.8" y2="617.8" stroke="#000" stroke-width="1.6"/>
<line x1="411" y1="617" x2="498.3" y2="617" stroke="#000" stroke-width="1.5"/>
<line x1="411.8" y1="617" x2="411.8" y2="620.4" stroke="#000" stroke-width="0.8"/>
<line x1="418.03" y1="617" x2="418.03" y2="619" stroke="#000" stroke-width="0.6"/>
<line x1="421.68" y1="617" x2="421.68" y2="619" stroke="#000" stroke-width="0.6"/>
<line x1="424.26" y1="617" x2="424.26" y2="619" stroke="#000" stroke-width="0.6"/>
<line x1="426.27" y1="617" x2="426.27" y2="619" stroke="#000" stroke-width="0.6"/>
<line x1="427.91" y1="617" x2="427.91" y2="619" stroke="#000" stroke-width="0.6"/>
<line x1="429.29" y1="617" x2="429.29" y2="619" stroke="#000" stroke-width="0.6"/>
<line x1="430.49" y1="617" x2="430.49" y2="619" stroke="#000" stroke-width="0.6"/>
<line x1="431.55" y1="617" x2="431.55" y2="619" stroke="#000" stroke-width="0.6"/>
<line x1="432.5" y1="617" x2="432.5" y2="620.4" stroke="#000" stroke-width="0.8"/>
<line x1="438.73" y1="617" x2="438.73" y2="619" stroke="#000" stroke-width="0.6"/>
<line x1="442.38" y1="617" x2="442.38" y2="619" stroke="#000" stroke-width="0.6"/>
<line x1="444.96" y1="617" x2="444.96" y2="619" stroke="#000" stroke-width="0.6"/>
<line x1="446.97" y1="617" x2="446.97" y2="619" stroke="#000" stroke-width="0.6"/>
<line x1="448.61" y1="617" x2="448.61" y2="619" stroke="#000" stroke-width="0.6"/>
<line x1="449.99" y1="617" x2="449.99" y2="619" stroke="#000" stroke-width="0.6"/>
<line x1="451.19" y1="617" x2="451.19" y2="619" stroke="#000" stroke-width="0.6"/>
<line x1="452.25" y1="617" x2="452.25" y2="619" stroke="#000" stroke-width="0.6"/>
<line x1="453.2" y1="617" x2="453.2" y2="620.4" stroke="#000" stroke-width="0.8"/>
<line x1="459.43" y1="617" x2="459.43" y2="619" stroke="#000" stroke-width="0.6"/>
<line x1="463.08" y1="617" x2="463.08" y2="619" stroke="#000" stroke-width="0.6"/>
<line x1="465.66" y1="617" x2="465.66" y2="619" stroke="#000" stroke-width="0.6"/>
<line x1="467.67" y1="617" x2="467.67" y2="619" stroke="#000" stroke-width="0.6"/>
<line x1="469.31" y1="617" x2="469.31" y2="619" stroke="#000" stroke-width="0.6"/>
<line x1="470.69" y1="617" x2="470.69" y2="619" stroke="#000" stroke-width="0.6"/>
<line x1="471.89" y1="617" x2="471.89" y2="619" stroke="#000" stroke-width="0.6"/>
<line x1="472.95" y1="617" x2="472.95" y2="619" stroke="#000" stroke-width="0.6"/>
<line x1="473.9" y1="617" x2="473.9" y2="620.4" stroke="#000" stroke-width="0.8"/>
<line x1="480.13" y1="617" x2="480.13" y2="619" stroke="#000" stroke-width="0.6"/>
<line x1="483.78" y1="617" x2="483.78" y2="619" stroke="#000" stroke-width="0.6"/>
<line x1="486.36" y1="617" x2="486.36" y2="619" stroke="#000" stroke-width="0.6"/>
<line x1="488.37" y1="617" x2="488.37" y2="619" stroke="#000" stroke-width="0.6"/>
<line x1="490.01" y1="617" x2="490.01" y2="619" stroke="#000" stroke-width="0.6"/>
<line x1="491.39" y1="617" x2="491.39" y2="619" stroke="#000" stroke-width="0.6"/>
<line x1="492.59" y1="617" x2="492.59" y2="619" stroke="#000" stroke-width="0.6"/>
<line x1="493.65" y1="617" x2="493.65" y2="619" stroke="#000" stroke-width="0.6"/>
<line x1="494.6" y1="617" x2="494.6" y2="620.4" stroke="#000" stroke-width="0.8"/>
<line x1="417.7" y1="516.6" x2="425.5" y2="516.6" stroke="#2b3d6b" stroke-width="1.1"/>
<text x="429.4" y="519.4" font-size="8" text-anchor="start" font-weight="normal" fill="#1c1c1c" stroke="#1c1c1c" stroke-width="0.18">Cre</text>
<line x1="417.7" y1="528.8" x2="425.5" y2="528.8" stroke="#ad1a36" stroke-width="1.1"/>
<text x="429.4" y="531.6" font-size="8" text-anchor="start" font-weight="normal" fill="#1c1c1c" stroke="#1c1c1c" stroke-width="0.18">K4-cKO</text>
<text transform="translate(408.2 562) rotate(-90)" font-size="8.3" text-anchor="middle" fill="#1c1c1c">Cell count</text>
<text x="453.2" y="631" font-size="8.4" text-anchor="middle" font-weight="normal" fill="#1c1c1c" stroke="#1c1c1c" stroke-width="0.18">CD14</text>
<polyline points="432.3,616.7 436,615.9 440.1,615.1 443,613.7 445.66,612.38 448.38,610.29 450.91,606.92 452.36,604.51 454.48,599.42 456.65,596.45 457.9,592.06 459.33,584.87 460.72,579.16 462.02,569.93 463.65,558.22 464.83,551.66 465.62,542.56 467.13,537.95 468,532.38 468.79,529.86 469.21,526.34 469.85,528.08 470.84,523.98 470.97,522.79 472.32,525.89 472.91,531.34 473.51,539.29 474.07,549.35 475.28,564.23 476.36,579.27 477.72,591.38 478.85,601.29 480.32,609.84 481.4,613.6 482.8,616.1 484,616.7" fill="none" stroke="#ad1a36" stroke-width="1.15" stroke-linejoin="round"/>
<polyline points="456,616.7 459.5,615.7 462.5,614.3 464.7,612.37 466.51,609.21 468.17,605.37 469.19,599.46 470.68,593.49 471.49,584.6 472.66,573.65 473.5,563.17 474.59,551.04 475.26,539.04 476.01,529.83 476.69,522.38 477.3,517 478,513.48 478.85,515.03 479.35,519.91 480.26,530.16 480.77,543.77 481.91,561.96 483.2,578.38 483.98,590.52 484.97,600 485.93,606.42 487.12,610.61 488.3,614.3 489.8,616.5" fill="none" stroke="#2b3d6b" stroke-width="1.15" stroke-linejoin="round"/>
</g>
</svg>
</body></html>
